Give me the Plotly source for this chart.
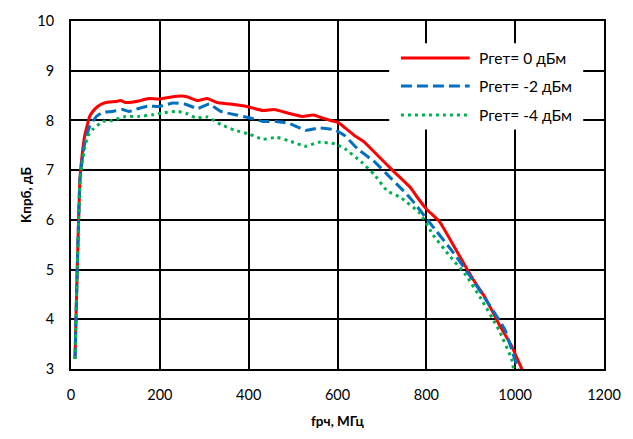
import plotly.graph_objects as go

# Conversion gain vs RF frequency for three LO power levels
x_0dbm = [9, 14, 20, 25, 31, 42, 49, 60, 71, 86, 100, 112, 123, 140, 152, 175, 197, 226, 248, 263,
          285, 307, 329, 358, 396, 432, 458, 491, 521, 546, 572, 601, 617, 639, 661, 690, 727, 764,
          780, 800, 830, 866, 904, 933, 963, 992, 1018]
y_0dbm = [3.2, 5.0, 6.8, 7.3, 7.7, 8.08, 8.18, 8.28, 8.34, 8.37, 8.38, 8.40, 8.36, 8.37, 8.39, 8.44,
          8.43, 8.47, 8.49, 8.47, 8.40, 8.44, 8.36, 8.33, 8.28, 8.20, 8.22, 8.14, 8.08, 8.11, 8.03,
          7.96, 7.85, 7.69, 7.56, 7.30, 6.97, 6.65, 6.45, 6.22, 5.96, 5.41, 4.82, 4.43, 3.91, 3.46, 2.94]

x_m2dbm = [9, 14, 20, 25, 31, 42, 57, 71, 93, 116, 130, 152, 175, 197, 230, 256, 285, 311, 337, 373,
           403, 432, 462, 491, 528, 558, 594, 617, 645, 683, 720, 749, 771, 808, 860, 897, 941, 977,
           999, 1008]
y_m2dbm = [3.2, 5.0, 6.8, 7.2, 7.55, 7.88, 8.08, 8.16, 8.18, 8.22, 8.18, 8.24, 8.29, 8.28, 8.35,
           8.33, 8.24, 8.33, 8.18, 8.11, 8.05, 7.98, 7.98, 7.94, 7.80, 7.85, 7.81, 7.69, 7.43, 7.17,
           6.84, 6.58, 6.36, 5.94, 5.35, 4.89, 4.30, 3.79, 3.20, 2.95]

x_m4dbm = [9, 14, 20, 25, 31, 38, 49, 71, 93, 123, 152, 182, 211, 241, 263, 281, 307, 337, 366, 403,
           432, 462, 491, 528, 557, 594, 617, 653, 683, 712, 742, 786, 815, 852, 889, 926, 963, 992, 997]
y_m4dbm = [3.2, 5.0, 6.7, 7.15, 7.45, 7.69, 7.82, 7.98, 8.0, 8.08, 8.08, 8.11, 8.16, 8.18, 8.13,
           8.05, 8.07, 7.92, 7.81, 7.72, 7.62, 7.66, 7.59, 7.48, 7.56, 7.53, 7.43, 7.17, 6.91, 6.58,
           6.45, 6.13, 5.70, 5.28, 4.89, 4.37, 3.79, 3.20, 2.95]

series_names = ["Pгет= 0 дБм", "Pгет= -2 дБм", "Pгет= -4 дБм"]
colors = ["#FF0000", "#0070C0", "#00B050"]
dashes = ["solid", "11px,5px", "3px,4px"]
widths = [3, 3, 3]

x_ticks = [0, 200, 400, 600, 800, 1000, 1200]
y_ticks = [3, 4, 5, 6, 7, 8, 9, 10]

FONT = "Lato, 'Open Sans', sans-serif"

fig = go.Figure()
for xs, ys, name, c, d, w in zip([x_0dbm, x_m2dbm, x_m4dbm], [y_0dbm, y_m2dbm, y_m4dbm],
                                 series_names, colors, dashes, widths):
    fig.add_trace(go.Scatter(x=xs, y=ys, mode="lines", name=name, showlegend=False,
                             line=dict(color=c, dash=d, width=w, shape="spline", smoothing=0.4)))

# Legend panel drawn as a white box with sample lines and labels
leg_x0, leg_x1, leg_y0, leg_y1 = 0.597, 0.961, 0.688, 0.936
fig.add_shape(type="rect", xref="paper", yref="paper", x0=leg_x0, x1=leg_x1, y0=leg_y0, y1=leg_y1,
              fillcolor="white", line=dict(width=0), layer="above")
row_y = [0.894, 0.813, 0.730]
for ry, name, c, d, w in zip(row_y, series_names, colors, dashes, widths):
    fig.add_shape(type="line", xref="paper", yref="paper", x0=0.619, x1=0.748, y0=ry, y1=ry,
                  line=dict(color=c, dash=d, width=w), layer="above")
    fig.add_annotation(xref="paper", yref="paper", x=0.761, y=ry, text=name, showarrow=False,
                       xanchor="left", yanchor="middle", font=dict(family=FONT, size=15.5, color="#000000"))

axis_common = dict(showgrid=True, gridcolor="#000000", gridwidth=2, showline=True,
                   linecolor="#000000", linewidth=2, mirror=True, zeroline=False, ticks="",
                   tickfont=dict(family=FONT, size=14.5, color="#000000"))

fig.update_layout(
    width=633, height=439,
    margin=dict(l=71, r=19, t=15, b=65),
    paper_bgcolor="white", plot_bgcolor="white",
    xaxis=dict(range=[0, 1200], tickvals=x_ticks, ticklabelstandoff=12,
               title=dict(text="<b>fрч, МГц</b>", font=dict(family=FONT, size=13.5, color="#000000"),
                          standoff=14),
               **axis_common),
    yaxis=dict(range=[3, 10], tickvals=y_ticks, ticklabelstandoff=12,
               title=dict(text="<b>Kпрб, дБ</b>", font=dict(family=FONT, size=13.5, color="#000000"),
                          standoff=3),
               **axis_common),
)

fig.write_html("out.html")
